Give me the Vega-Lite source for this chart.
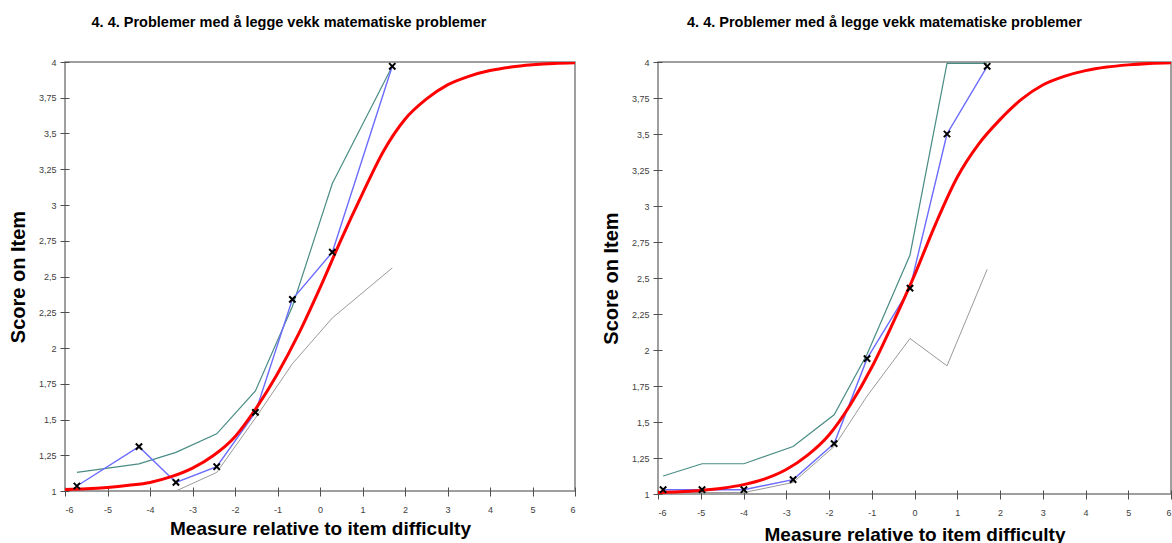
{
  "$schema": "https://vega.github.io/schema/vega-lite/v6.json",
  "background": "white",
  "padding": {"left": 7, "top": 13, "right": 0, "bottom": 0},
  "spacing": 23,
  "config": {
    "font": "Liberation Sans",
    "view": {"stroke": "#808080", "strokeWidth": 1.5},
    "axis": {
      "domain": false,
      "grid": false,
      "offset": -4,
      "tickSize": 9,
      "tickColor": "#505050",
      "tickWidth": 1,
      "labelFont": "Liberation Sans",
      "labelFontSize": 9,
      "labelColor": "#404040",
      "titleFont": "Liberation Sans",
      "titleFontSize": 19,
      "titleFontWeight": "bold",
      "titleColor": "#000000"
    },
    "title": {
      "font": "Liberation Sans",
      "fontSize": 14.5,
      "fontWeight": "bold",
      "color": "#000000",
      "frame": "group",
      "anchor": "middle",
      "offset": 28
    }
  },
  "datasets": {
    "venstre": [
      {"serie": "Nedre", "x": -5.72, "y": 1.0},
      {"serie": "Nedre", "x": -4.26, "y": 1.0},
      {"serie": "Nedre", "x": -3.39, "y": 1.0},
      {"serie": "Nedre", "x": -2.43, "y": 1.13},
      {"serie": "Nedre", "x": -1.52, "y": 1.51},
      {"serie": "Nedre", "x": -0.65, "y": 1.89},
      {"serie": "Nedre", "x": 0.29, "y": 2.21},
      {"serie": "Nedre", "x": 1.7, "y": 2.56},
      {"serie": "Øvre", "x": -5.72, "y": 1.13},
      {"serie": "Øvre", "x": -4.26, "y": 1.19},
      {"serie": "Øvre", "x": -3.39, "y": 1.27},
      {"serie": "Øvre", "x": -2.43, "y": 1.4},
      {"serie": "Øvre", "x": -1.52, "y": 1.7},
      {"serie": "Øvre", "x": -0.65, "y": 2.29},
      {"serie": "Øvre", "x": 0.29, "y": 3.15},
      {"serie": "Øvre", "x": 1.7, "y": 3.97},
      {"serie": "Observert", "x": -5.72, "y": 1.035},
      {"serie": "Observert", "x": -4.26, "y": 1.31},
      {"serie": "Observert", "x": -3.39, "y": 1.06},
      {"serie": "Observert", "x": -2.43, "y": 1.17},
      {"serie": "Observert", "x": -1.52, "y": 1.55},
      {"serie": "Observert", "x": -0.65, "y": 2.34},
      {"serie": "Observert", "x": 0.29, "y": 2.67},
      {"serie": "Observert", "x": 1.7, "y": 3.97},
      {"serie": "Forventet", "x": -6, "y": 1.01},
      {"serie": "Forventet", "x": -5.5, "y": 1.015},
      {"serie": "Forventet", "x": -5, "y": 1.025},
      {"serie": "Forventet", "x": -4.5, "y": 1.04},
      {"serie": "Forventet", "x": -4, "y": 1.06},
      {"serie": "Forventet", "x": -3.5, "y": 1.1},
      {"serie": "Forventet", "x": -3, "y": 1.16},
      {"serie": "Forventet", "x": -2.5, "y": 1.25},
      {"serie": "Forventet", "x": -2, "y": 1.38},
      {"serie": "Forventet", "x": -1.5, "y": 1.58},
      {"serie": "Forventet", "x": -1, "y": 1.82},
      {"serie": "Forventet", "x": -0.5, "y": 2.1},
      {"serie": "Forventet", "x": 0, "y": 2.42},
      {"serie": "Forventet", "x": 0.5, "y": 2.76},
      {"serie": "Forventet", "x": 1, "y": 3.08},
      {"serie": "Forventet", "x": 1.5, "y": 3.38},
      {"serie": "Forventet", "x": 2, "y": 3.6},
      {"serie": "Forventet", "x": 2.5, "y": 3.74},
      {"serie": "Forventet", "x": 3, "y": 3.84},
      {"serie": "Forventet", "x": 3.5, "y": 3.9},
      {"serie": "Forventet", "x": 4, "y": 3.94},
      {"serie": "Forventet", "x": 4.5, "y": 3.965},
      {"serie": "Forventet", "x": 5, "y": 3.98},
      {"serie": "Forventet", "x": 5.5, "y": 3.99},
      {"serie": "Forventet", "x": 6, "y": 3.995}
    ],
    "hoyre": [
      {"serie": "Nedre", "x": -5.88, "y": 1.01},
      {"serie": "Nedre", "x": -4.97, "y": 1.01},
      {"serie": "Nedre", "x": -3.99, "y": 1.01},
      {"serie": "Nedre", "x": -2.84, "y": 1.08},
      {"serie": "Nedre", "x": -1.88, "y": 1.33},
      {"serie": "Nedre", "x": -1.11, "y": 1.68},
      {"serie": "Nedre", "x": -0.105, "y": 2.08},
      {"serie": "Nedre", "x": 0.76, "y": 1.89},
      {"serie": "Nedre", "x": 1.7, "y": 2.56},
      {"serie": "Øvre", "x": -5.88, "y": 1.125},
      {"serie": "Øvre", "x": -4.97, "y": 1.21},
      {"serie": "Øvre", "x": -3.99, "y": 1.21},
      {"serie": "Øvre", "x": -2.84, "y": 1.33},
      {"serie": "Øvre", "x": -1.88, "y": 1.55},
      {"serie": "Øvre", "x": -1.11, "y": 1.97},
      {"serie": "Øvre", "x": -0.105, "y": 2.66},
      {"serie": "Øvre", "x": 0.76, "y": 3.99},
      {"serie": "Øvre", "x": 1.7, "y": 3.99},
      {"serie": "Observert", "x": -5.88, "y": 1.03},
      {"serie": "Observert", "x": -4.97, "y": 1.03},
      {"serie": "Observert", "x": -3.99, "y": 1.03},
      {"serie": "Observert", "x": -2.84, "y": 1.1},
      {"serie": "Observert", "x": -1.88, "y": 1.35},
      {"serie": "Observert", "x": -1.11, "y": 1.94},
      {"serie": "Observert", "x": -0.105, "y": 2.43},
      {"serie": "Observert", "x": 0.76, "y": 3.5},
      {"serie": "Observert", "x": 1.7, "y": 3.97},
      {"serie": "Forventet", "x": -6, "y": 1.01},
      {"serie": "Forventet", "x": -5.5, "y": 1.015},
      {"serie": "Forventet", "x": -5, "y": 1.025},
      {"serie": "Forventet", "x": -4.5, "y": 1.04},
      {"serie": "Forventet", "x": -4, "y": 1.065},
      {"serie": "Forventet", "x": -3.5, "y": 1.105},
      {"serie": "Forventet", "x": -3, "y": 1.17},
      {"serie": "Forventet", "x": -2.5, "y": 1.27},
      {"serie": "Forventet", "x": -2, "y": 1.41},
      {"serie": "Forventet", "x": -1.5, "y": 1.62},
      {"serie": "Forventet", "x": -1, "y": 1.88},
      {"serie": "Forventet", "x": -0.5, "y": 2.19},
      {"serie": "Forventet", "x": 0, "y": 2.52},
      {"serie": "Forventet", "x": 0.5, "y": 2.88},
      {"serie": "Forventet", "x": 1, "y": 3.2},
      {"serie": "Forventet", "x": 1.5, "y": 3.43},
      {"serie": "Forventet", "x": 2, "y": 3.6},
      {"serie": "Forventet", "x": 2.5, "y": 3.74},
      {"serie": "Forventet", "x": 3, "y": 3.84},
      {"serie": "Forventet", "x": 3.5, "y": 3.9},
      {"serie": "Forventet", "x": 4, "y": 3.94},
      {"serie": "Forventet", "x": 4.5, "y": 3.965},
      {"serie": "Forventet", "x": 5, "y": 3.98},
      {"serie": "Forventet", "x": 5.5, "y": 3.99},
      {"serie": "Forventet", "x": 6, "y": 3.995}
    ]
  },
  "hconcat": [
    {
      "width": 510,
      "height": 429,
      "title": {"text": "4. 4. Problemer med å legge vekk matematiske problemer", "dx": -31},
      "data": {"name": "venstre"},
      "encoding": {
        "x": {
          "field": "x", "type": "quantitative",
          "scale": {"domain": [-6, 6], "nice": false},
          "axis": {"values": [-6, -5, -4, -3, -2, -1, 0, 1, 2, 3, 4, 5, 6], "labelExpr": "toString(datum.value)", "title": "Measure relative to item difficulty", "labelPadding": 9, "titleBaseline": "alphabetic", "titleY": 47}
        },
        "y": {
          "field": "y", "type": "quantitative",
          "scale": {"domain": [1, 4], "nice": false, "zero": false},
          "axis": {"values": [1, 1.25, 1.5, 1.75, 2, 2.25, 2.5, 2.75, 3, 3.25, 3.5, 3.75, 4], "labelExpr": "replace(toString(datum.value), '.', ',')", "title": "Score on Item", "titleFontSize": 20, "labelPadding": 4, "titleBaseline": "alphabetic", "titleX": -45}
        }
      },
      "layer": [
        {
          "transform": [{"filter": "datum.serie !== 'Forventet'"}],
          "mark": {"type": "line", "clip": true},
          "encoding": {
            "color": {"field": "serie", "type": "nominal", "scale": {"domain": ["Nedre", "Øvre", "Observert"], "range": ["#9a9a9a", "#4a8c85", "#6b6bff"]}, "legend": null},
            "strokeWidth": {"field": "serie", "type": "nominal", "scale": {"domain": ["Nedre", "Øvre", "Observert"], "range": [1, 1.4, 1]}, "legend": null}
          }
        },
        {
          "transform": [{"filter": "datum.serie === 'Forventet'"}],
          "mark": {"type": "line", "color": "#ff0000", "strokeWidth": 3, "interpolate": "monotone", "clip": true},
          "encoding": {}
        },
        {
          "transform": [{"filter": "datum.serie === 'Observert'"}],
          "mark": {"type": "point", "shape": "M-1,-1L1,1M-1,1L1,-1", "filled": false, "stroke": "#000000", "strokeWidth": 2, "size": 40, "opacity": 1},
          "encoding": {}
        }
      ]
    },
    {
      "width": 513,
      "height": 432,
      "title": {"text": "4. 4. Problemer med å legge vekk matematiske problemer", "dx": -30},
      "data": {"name": "hoyre"},
      "encoding": {
        "x": {
          "field": "x", "type": "quantitative",
          "scale": {"domain": [-6, 6], "nice": false},
          "axis": {"values": [-6, -5, -4, -3, -2, -1, 0, 1, 2, 3, 4, 5, 6], "labelExpr": "toString(datum.value)", "title": "Measure relative to item difficulty", "labelPadding": 9, "titleBaseline": "alphabetic", "titleY": 50}
        },
        "y": {
          "field": "y", "type": "quantitative",
          "scale": {"domain": [1, 4], "nice": false, "zero": false},
          "axis": {"values": [1, 1.25, 1.5, 1.75, 2, 2.25, 2.5, 2.75, 3, 3.25, 3.5, 3.75, 4], "labelExpr": "replace(toString(datum.value), '.', ',')", "title": "Score on Item", "titleFontSize": 20, "labelPadding": 4, "titleBaseline": "alphabetic", "titleX": -45}
        }
      },
      "layer": [
        {
          "transform": [{"filter": "datum.serie !== 'Forventet'"}],
          "mark": {"type": "line", "clip": true},
          "encoding": {
            "color": {"field": "serie", "type": "nominal", "scale": {"domain": ["Nedre", "Øvre", "Observert"], "range": ["#9a9a9a", "#4a8c85", "#6b6bff"]}, "legend": null},
            "strokeWidth": {"field": "serie", "type": "nominal", "scale": {"domain": ["Nedre", "Øvre", "Observert"], "range": [1, 1.4, 1]}, "legend": null}
          }
        },
        {
          "transform": [{"filter": "datum.serie === 'Forventet'"}],
          "mark": {"type": "line", "color": "#ff0000", "strokeWidth": 3, "interpolate": "monotone", "clip": true},
          "encoding": {}
        },
        {
          "transform": [{"filter": "datum.serie === 'Observert'"}],
          "mark": {"type": "point", "shape": "M-1,-1L1,1M-1,1L1,-1", "filled": false, "stroke": "#000000", "strokeWidth": 2, "size": 40, "opacity": 1},
          "encoding": {}
        }
      ]
    }
  ]
}
